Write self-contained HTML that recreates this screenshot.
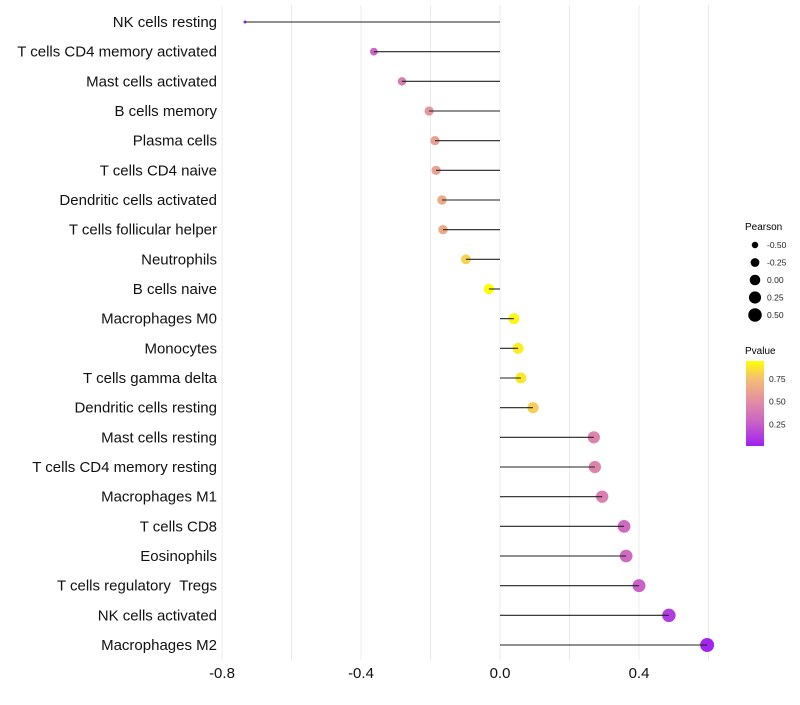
<!DOCTYPE html>
<html><head><meta charset="utf-8"><style>
body{margin:0;background:#fff;font-family:"Liberation Sans",Arial,sans-serif}
</style></head><body>
<svg id="chart" width="800" height="700" xmlns="http://www.w3.org/2000/svg" style="font-family:'Liberation Sans',sans-serif">
<defs>
<linearGradient id="pg" x1="0" y1="1" x2="0" y2="0">
<stop offset="0" stop-color="#a020f0"/><stop offset="0.27" stop-color="#c860c8"/><stop offset="0.53" stop-color="#e38fa3"/><stop offset="0.8" stop-color="#f5c070"/><stop offset="1" stop-color="#ffff00"/>
</linearGradient>
</defs>
<g id="grid"></g>
<g id="dots"></g>
<g id="marks"></g>
<g id="legend">
<text x="745" y="230" font-size="10">Pearson</text>
<text x="745" y="354" font-size="10">Pvalue</text>
<rect x="746" y="361" width="18" height="85" fill="url(#pg)"/>
</g>
</svg>
<script>
const categories=["NK cells resting","T cells CD4 memory activated","Mast cells activated","B cells memory","Plasma cells","T cells CD4 naive","Dendritic cells activated","T cells follicular helper","Neutrophils","B cells naive","Macrophages M0","Monocytes","T cells gamma delta","Dendritic cells resting","Mast cells resting","T cells CD4 memory resting","Macrophages M1","T cells CD8","Eosinophils","T cells regulatory\u00a0\u00a0Tregs","NK cells activated","Macrophages M2"];
const pearson=[-0.734,-0.363,-0.282,-0.204,-0.187,-0.184,-0.167,-0.164,-0.098,-0.032,0.040,0.052,0.060,0.095,0.270,0.273,0.294,0.357,0.363,0.400,0.486,0.596];
const pvalues=[0.02,0.3,0.42,0.55,0.6,0.6,0.65,0.65,0.82,0.95,0.92,0.9,0.88,0.8,0.45,0.45,0.43,0.32,0.32,0.27,0.12,0.03];
const xTicks=[-0.8,-0.4,0.0,0.4];
const xTickLabels=["-0.8","-0.4","0.0","0.4"];
const sizeLegend=[-0.5,-0.25,0,0.25,0.5];
const sizeLegendLabels=["-0.50","-0.25","0.00","0.25","0.50"];
const colorTicks=[0.75,0.5,0.25];
const colorTickLabels=["0.75","0.50","0.25"];
const NS="http://www.w3.org/2000/svg";
const X=v=>500+v*347.5;
const Y=i=>22+i*(623/21);
const pmin=Math.min(...pearson),pmax=Math.max(...pearson);
const R=v=>Math.sqrt(2.25+(v-pmin)/(pmax-pmin)*(49-2.25));
const stops=[[0,[160,32,240]],[0.27,[200,96,200]],[0.53,[227,143,163]],[0.8,[245,192,112]],[1,[255,255,0]]];
const cmin=0.01,cmax=0.95;
function col(p){let t=Math.max(0,Math.min(1,(p-cmin)/(cmax-cmin)));for(let k=1;k<stops.length;k++){if(t<=stops[k][0]){const a=stops[k-1],b=stops[k];const f=(t-a[0])/(b[0]-a[0]);return "rgb("+a[1].map((c,j)=>Math.round(c+(b[1][j]-c)*f)).join(",")+")";}}return "rgb(255,255,0)";}
function mk(tag,at,parent){const e=document.createElementNS(NS,tag);for(const k in at)e.setAttribute(k,at[k]);document.getElementById(parent).appendChild(e);return e;}
for(let v=-0.8;v<=0.61;v+=0.2){const g=mk("line",{x1:X(v),x2:X(v),y1:5,y2:660,stroke:"#ebebeb","stroke-width":1},"grid");

}
xTicks.forEach((v,i)=>{const t=mk("text",{x:X(v),y:678,"font-size":15,"text-anchor":"middle",fill:"#111"},"grid");t.textContent=xTickLabels[i];

});
categories.forEach((c,i)=>{
const t=mk("text",{x:217,y:Y(i)+5,"font-size":15,"text-anchor":"end",fill:"#111"},"grid");t.textContent=c;


const d=mk("circle",{cx:X(pearson[i]),cy:Y(i),r:R(pearson[i]),fill:col(pvalues[i])},"dots");


const l=mk("line",{x1:X(0),x2:X(pearson[i]),y1:Y(i),y2:Y(i),stroke:"#222","stroke-width":1.1},"marks");


});
sizeLegend.forEach((v,i)=>{const y=245+i*17.5;
const c=mk("circle",{cx:755,cy:y,r:R(v),fill:"#000"},"legend");


const t=mk("text",{x:767,y:y+3,"font-size":8.5,fill:"#222"},"legend");t.textContent=sizeLegendLabels[i];

});
colorTicks.forEach((p,i)=>{const y=446-(p-cmin)/(cmax-cmin)*85;
const t=mk("text",{x:769,y:y+3,"font-size":8.5,fill:"#222"},"legend");t.textContent=colorTickLabels[i];

});
</script>
</body></html>
